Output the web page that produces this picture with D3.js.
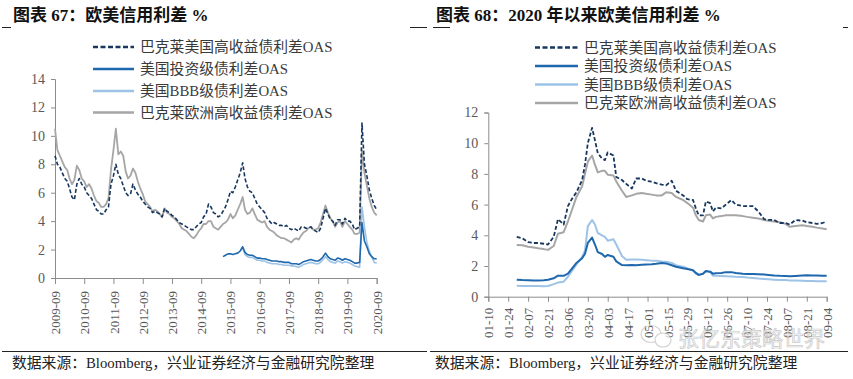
<!DOCTYPE html>
<html><head><meta charset="utf-8">
<script src="https://cdn.jsdelivr.net/npm/d3@7"></script>
<style>body{margin:0;background:#fff}</style></head>
<body><svg id="c" width="853" height="379"></svg>
<script>
// ---------- DATA ----------
const seriesNames = ["巴克莱美国高收益债利差OAS", "美国投资级债利差OAS", "美国BBB级债利差OAS", "巴克莱欧洲高收益债利差OAS"];
const leftTitle = "图表 67：欧美信用利差 %";
const rightTitle = "图表 68：2020 年以来欧美信用利差 %";
const sourceText = "数据来源：Bloomberg，兴业证券经济与金融研究院整理";
const watermark = "张亿东策略世界";

// Left panel: monthly, starting 2009-09
const leftStart = "2009-09";
const usHY = [8.6,8.0,7.8,7.4,
 7.0,6.8,6.3,5.7,5.5,6.6,7.0,6.6,6.4,6.0,5.8,5.6,
 5.2,4.8,4.7,4.5,4.5,4.8,5.0,6.6,7.2,8.0,7.3,7.0,
 6.5,6.0,5.8,5.9,6.6,6.2,5.9,5.7,5.4,5.2,5.0,4.9,
 4.6,4.7,4.6,4.5,4.3,4.9,4.7,4.6,4.4,4.3,4.1,3.9,
 3.8,3.7,3.6,3.5,3.4,3.4,3.6,3.8,3.9,4.3,4.5,5.2,
 5.0,4.6,4.5,4.3,4.4,4.7,5.0,5.5,6.1,6.0,6.4,6.9,
 7.4,8.1,7.0,6.4,6.1,6.0,5.6,5.2,5.0,4.8,4.6,4.2,
 4.0,3.8,3.9,3.8,3.7,3.7,3.6,3.7,3.5,3.4,3.5,3.4,
 3.3,3.6,3.6,3.5,3.5,3.6,3.4,3.3,3.2,3.5,4.2,4.9,
 4.5,4.1,4.0,3.7,4.1,4.1,3.8,4.2,4.0,4.0,3.8,3.4,
 3.5,3.6,10.9,8.0,7.2,6.2,5.6,5.1,4.8];
const euHY = [10.5,9.0,8.6,8.2,
 7.8,7.6,7.0,6.6,6.9,7.9,7.6,7.0,6.8,6.4,6.6,6.3,
 5.8,5.4,5.3,5.0,5.0,5.2,5.6,7.6,9.0,10.5,8.7,8.9,
 8.6,7.5,7.0,7.2,7.7,7.4,6.8,6.3,5.9,5.4,5.2,5.0,
 4.7,4.8,4.7,4.5,4.3,4.9,4.6,4.5,4.3,4.2,4.0,3.8,
 3.5,3.4,3.3,3.1,2.9,2.8,3.0,3.3,3.5,3.8,3.8,4.0,
 4.0,3.6,3.5,3.4,3.6,3.8,3.9,4.1,4.5,4.2,4.4,4.8,
 5.2,5.7,4.8,4.5,4.6,4.9,4.5,4.1,4.0,3.9,4.0,3.6,
 3.4,3.3,3.2,3.0,2.9,2.8,2.8,2.7,2.6,2.5,2.7,2.8,
 2.7,3.0,3.2,3.3,3.5,3.6,3.4,3.4,3.5,3.9,4.5,5.1,
 4.6,4.2,4.0,3.6,3.9,4.0,3.6,4.0,3.8,3.6,3.4,3.1,
 3.1,3.2,9.0,7.4,6.5,5.6,5.0,4.6,4.4];
const igStart = "2015-06";
const ig = [1.5,1.6,1.7,1.7,1.65,1.7,1.75,
 1.9,2.2,1.8,1.65,1.6,1.6,1.5,1.4,1.4,1.35,1.35,1.3,
 1.25,1.2,1.2,1.2,1.15,1.15,1.1,1.1,1.1,1.0,1.0,1.0,
 0.95,1.05,1.15,1.2,1.25,1.3,1.25,1.2,1.2,1.3,1.5,1.75,
 1.5,1.35,1.3,1.25,1.4,1.35,1.25,1.35,1.3,1.25,1.15,1.05,
 1.05,1.1,3.9,2.6,2.2,1.7,1.5,1.35,1.35];
const bbbStart = "2016-02";
const bbb = [2.1,1.65,1.5,1.45,1.45,1.35,1.25,1.25,1.2,1.2,1.1,
 1.05,1.0,1.0,1.0,0.95,0.95,0.9,0.9,0.9,0.85,0.85,0.8,
 0.75,0.85,0.95,1.0,1.05,1.1,1.05,1.0,1.0,1.1,1.3,1.5,
 1.3,1.15,1.1,1.05,1.2,1.15,1.05,1.15,1.1,1.05,0.95,0.85,
 0.8,0.75,5.0,3.6,2.5,1.9,1.5,1.1,1.05];
const leftTicks = ["2009-09","2010-09","2011-09","2012-09","2013-09","2014-09","2015-09","2016-09","2017-09","2018-09","2019-09","2020-09"];
const leftYTicks = [0,2,4,6,8,10,12,14];

// Right panel: 2020
const rDates = ["01-30","02-03","02-07","02-11","02-14","02-18","02-21","02-25","02-28","03-03","03-06","03-09","03-12","03-16","03-18","03-20","03-23","03-25","03-27","03-30","04-01","04-03","04-07","04-09","04-13","04-16","04-20","04-23","04-27","04-30","05-04","05-07","05-11","05-14","05-18","05-21","05-26","05-29","06-02","06-04","06-06","06-09","06-11","06-14","06-16","06-18","06-22","06-25","06-29","07-02","07-07","07-10","07-14","07-18","07-22","07-25","07-29","08-02","08-06","08-09","08-13","08-18","08-21","08-25","08-28","09-01","09-04"];
const rUSHY = [3.9,3.8,3.55,3.5,3.5,3.45,3.4,3.9,5.05,4.7,5.9,6.4,6.8,7.6,8.6,10.0,11.0,10.2,9.35,9.0,8.9,9.4,9.2,7.8,7.6,7.35,7.05,7.7,7.7,7.55,7.5,7.4,7.3,7.25,7.55,6.9,6.6,6.35,6.3,5.75,5.3,5.3,6.2,6.1,5.55,5.8,5.75,6.0,6.3,6.0,5.9,5.9,5.9,5.55,5.05,5.0,5.0,4.8,4.8,4.7,5.0,4.95,4.85,4.8,4.75,4.8,4.9];
const rIG = [1.1,1.08,1.07,1.06,1.06,1.07,1.1,1.2,1.37,1.36,1.5,1.85,2.2,2.5,2.8,3.5,3.85,3.4,2.9,2.78,2.6,2.72,2.6,2.3,2.06,2.05,2.07,2.05,2.08,2.1,2.12,2.15,2.2,2.17,2.05,1.95,1.85,1.8,1.72,1.55,1.42,1.5,1.68,1.63,1.5,1.52,1.55,1.6,1.6,1.55,1.5,1.48,1.48,1.47,1.45,1.42,1.38,1.36,1.35,1.33,1.35,1.38,1.39,1.38,1.38,1.37,1.37];
const rBBB = [0.72,0.7,0.7,0.69,0.69,0.68,0.7,0.82,0.92,0.98,1.3,1.7,2.1,2.6,3.0,4.6,5.0,4.7,4.15,4.0,3.9,3.65,3.74,3.4,2.65,2.4,2.42,2.43,2.4,2.38,2.35,2.35,2.3,2.28,2.2,2.05,1.95,1.85,1.7,1.5,1.41,1.5,1.65,1.6,1.37,1.36,1.35,1.34,1.32,1.3,1.28,1.25,1.22,1.18,1.15,1.13,1.11,1.09,1.08,1.06,1.05,1.04,1.03,1.02,1.01,1.0,1.0];
const rEUHY = [3.37,3.35,3.25,3.2,3.15,3.1,3.05,3.3,4.1,4.2,4.9,5.7,6.5,7.2,8.0,8.8,9.2,8.6,8.1,8.2,8.2,7.95,7.9,7.5,6.9,6.5,6.6,6.7,6.75,6.7,6.65,6.6,6.6,6.8,6.75,6.5,6.3,6.1,5.8,5.3,5.0,4.9,5.3,5.35,5.1,5.2,5.25,5.3,5.3,5.3,5.25,5.2,5.15,5.1,5.0,4.95,4.9,4.85,4.75,4.55,4.6,4.65,4.6,4.55,4.5,4.45,4.4];
const rightTicks = ["01-10","01-24","02-07","02-21","03-06","03-20","04-03","04-17","05-01","05-15","05-29","06-12","06-26","07-10","07-24","08-07","08-21","09-04"];
const rightYTicks = [0,2,4,6,8,10,12];

// ---------- STYLE ----------
const FONT = '"Liberation Serif","Times New Roman","Noto Sans CJK SC",serif';
const colors = ["#17375e", "#1f68ad", "#9dc3e6", "#a6a6a6"];
const dashes = ["4,2.2", null, null, null];
const axisColor = "#8c8c8c", labelColor = "#595959";

const svg = d3.select("#c").style("font-family", FONT);
const pm = d3.timeParse("%Y-%m");
const pd = d3.timeParse("%Y-%m-%d");

function monthSeries(start, vals) {
  const s = pm(start);
  return vals.map((v, i) => ({d: d3.timeMonth.offset(s, i), v}));
}
function daySeries(vals) {
  return vals.map((v, i) => ({d: pd("2020-" + rDates[i]), v}));
}

function panel(cfg) {
  const g = svg.append("g");
  const x = d3.scaleTime().domain(cfg.xDomain).range(cfg.xRange);
  const y = d3.scaleLinear().domain(cfg.yDomain).range(cfg.yRange);
  // y axis
  const ya = g.append("g").attr("transform", `translate(${cfg.xRange[0]},0)`)
    .call(d3.axisLeft(y).tickValues(cfg.yTicks).tickSize(4).tickPadding(6));
  ya.select(".domain").attr("stroke", axisColor);
  ya.selectAll(".tick line").attr("stroke", axisColor);
  ya.selectAll("text").attr("fill", labelColor).style("font-size", "14px").style("font-family", FONT);
  // x axis
  const xa = g.append("g").attr("transform", `translate(0,${cfg.yRange[0]})`)
    .call(d3.axisBottom(x).tickValues(cfg.xTickDates).tickSize(cfg.xTickSize).tickFormat((d, i) => cfg.xTickLabels[i]));
  xa.select(".domain").attr("stroke", axisColor);
  xa.selectAll(".tick line").attr("stroke", axisColor);
  xa.selectAll("text").attr("fill", labelColor).style("font-size", "13px").style("font-family", FONT)
    .attr("transform", "rotate(-90)").attr("x", -cfg.xLabelOff).attr("y", 0).attr("dy", "0.35em").style("text-anchor", "end");
  // lines (draw order: gray, bbb, ig, us hy)
  const line = d3.line().x(d => x(d.d)).y(d => y(d.v)).curve(d3.curveLinear);
  [3, 2, 1, 0].forEach(k => {
    g.append("path").datum(cfg.series[k]).attr("d", line).attr("fill", "none")
      .attr("stroke", colors[k]).attr("stroke-width", cfg.lw[k])
      .attr("stroke-dasharray", dashes[k]).attr("stroke-linejoin", "round");
  });
  // legend
  const lg = g.append("g");
  seriesNames.forEach((n, k) => {
    const yy = cfg.legY[k];
    lg.append("line").attr("x1", cfg.legX[0]).attr("x2", cfg.legX[1]).attr("y1", yy).attr("y2", yy)
      .attr("stroke", colors[k]).attr("stroke-width", 2.5).attr("stroke-dasharray", k === 0 ? "5,2.5" : null);
    lg.append("text").attr("x", cfg.legX[1] + 6).attr("y", yy).attr("dy", "0.36em")
      .style("font-size", "14.8px").attr("fill", "#3a3a3a").text(n);
  });
  // title
  svg.append("text").attr("x", cfg.titleX).attr("y", 21).style("font-size", "17px").style("font-weight", "bold")
    .attr("fill", "#111").text(cfg.title);
  cfg.titleLines.forEach(s => svg.append("line").attr("x1", s[0]).attr("x2", s[1]).attr("y1", 27.5).attr("y2", 27.5).attr("stroke", "#222").attr("stroke-width", 1));
  // source
  svg.append("line").attr("x1", cfg.srcLine[0]).attr("x2", cfg.srcLine[1]).attr("y1", 351.5).attr("y2", 351.5).attr("stroke", "#222").attr("stroke-width", 1);
  svg.append("text").attr("x", cfg.srcX).attr("y", 368).style("font-size", "14.8px").attr("fill", "#222").text(sourceText);
}

panel({
  xDomain: [pm("2009-09"), pm("2020-09")], xRange: [55, 376.7],
  yDomain: [0, 14], yRange: [278, 79], yTicks: leftYTicks,
  xTickDates: leftTicks.map(t => pm(t)), xTickLabels: leftTicks, xTickSize: 6, xLabelOff: 13,
  series: [monthSeries(leftStart, usHY), monthSeries(igStart, ig), monthSeries(bbbStart, bbb), monthSeries(leftStart, euHY)],
  lw: [1.6, 1.6, 1.6, 1.8],
  legX: [93, 134], legY: [47, 69, 91, 112.5],
  title: leftTitle, titleX: 13, titleLines: [[2, 11], [410, 427]],
  srcLine: [2, 427], srcX: 12
});
panel({
  xDomain: [pd("2020-01-10"), pd("2020-09-04")], xRange: [488.3, 826.7],
  yDomain: [0, 12], yRange: [296.7, 112.5], yTicks: rightYTicks,
  xTickDates: rightTicks.map(t => pd("2020-" + t)), xTickLabels: rightTicks, xTickSize: 5, xLabelOff: 11,
  series: [daySeries(rUSHY), daySeries(rIG), daySeries(rBBB), daySeries(rEUHY)],
  lw: [1.8, 2, 2, 2],
  legX: [535, 578], legY: [47.5, 66, 84.5, 103],
  title: rightTitle, titleX: 436, titleLines: [[433, 450], [843, 848]],
  srcLine: [430, 848], srcX: 435
});

// watermark
const wm = svg.append("g").attr("opacity", 0.75);
wm.append("ellipse").attr("cx", 651).attr("cy", 334).attr("rx", 10).attr("ry", 8.5).attr("fill", "none").attr("stroke", "#c4c4c4").attr("stroke-width", 1.2);
wm.append("ellipse").attr("cx", 663).attr("cy", 340).attr("rx", 8).attr("ry", 7).attr("fill", "#fff").attr("stroke", "#c4c4c4").attr("stroke-width", 1.2);
wm.append("text").attr("x", 678).attr("y", 346).style("font-size", "21px").style("font-family", '"Noto Sans CJK SC",sans-serif')
  .attr("fill", "#f4f4f4").attr("stroke", "#b8b8b8").attr("stroke-width", 0.7).text(watermark);
</script></body></html>
